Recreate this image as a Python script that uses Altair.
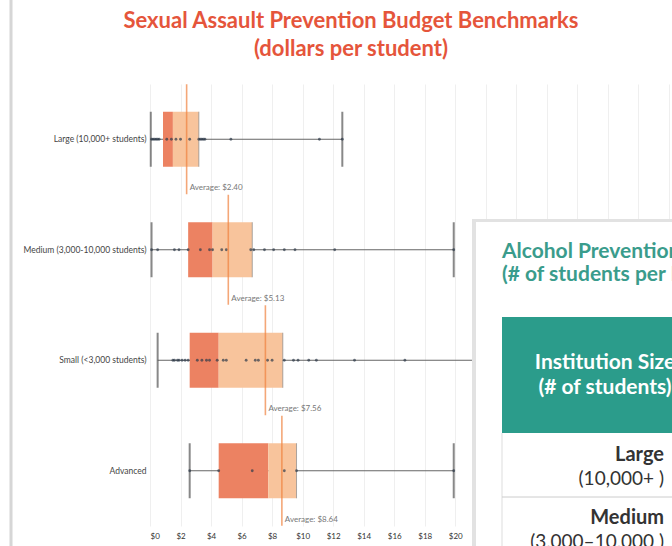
import altair as alt
import pandas as pd

# ---------------- data ----------------
groups = ["Large (10,000+ students)", "Medium (3,000-10,000 students)",
          "Small (<3,000 students)", "Advanced"]
mins = [0.05, 0.1, 0.5, 2.6]
q1s = [0.85, 2.5, 2.6, 4.5]
medians = [1.5, 4.1, 4.5, 7.75]
q3s = [3.2, 6.7, 8.7, 9.6]
maxs = [12.6, 19.9, 25.0, 19.9]
averages = [2.40, 5.13, 7.56, 8.64]

large_pts = [0.1, 0.2, 0.3, 0.4, 0.5, 0.6, 1.1, 1.4, 1.7, 2.0, 2.6, 3.2, 3.3, 3.4,
             3.5, 3.6, 5.3, 11.1, 12.6]
medium_pts = [0.1, 0.5, 1.6, 1.9, 2.5, 3.3, 3.9, 4.1, 4.7, 5.0, 6.6, 6.8, 7.5, 8.1,
              8.8, 9.5, 12.1, 19.9]
small_pts = [1.5, 1.6, 1.8, 1.9, 2.1, 2.3, 2.5, 3.1, 3.4, 3.7, 3.9, 4.4, 4.8, 5.0,
             6.3, 6.9, 7.1, 7.7, 8.0, 8.8, 9.4, 9.7, 10.4, 10.9, 13.4, 16.7]
advanced_pts = [2.6, 4.5, 6.7, 8.8, 9.6, 19.9]

x_ticks = list(range(0, 36, 2))

title_lines = ["Sexual Assault Prevention Budget Benchmarks", "(dollars per student)"]

overlay_title = ["Alcohol Prevention Staffing Benchmarks", "(# of students per FTE)"]
overlay_header = ["Institution Size", "(# of students)"]
overlay_row_names = ["Large", "Medium"]
overlay_row_ranges = ["(10,000+ )", "(3,000\u201310,000 )"]

# ---------------- tables ----------------
stats = pd.DataFrame({
    "group": groups, "min": mins, "q1": q1s, "med": medians, "q3": q3s,
    "max": maxs, "avg": averages,
    "label": ["Average: $%.2f" % a for a in averages],
})
pts = pd.DataFrame({
    "group": [groups[0]] * len(large_pts) + [groups[1]] * len(medium_pts)
             + [groups[2]] * len(small_pts) + [groups[3]] * len(advanced_pts),
    "value": large_pts + medium_pts + small_pts + advanced_pts,
})

FONT = "Lato"
xs = alt.Scale(domain=[0, 34.2], nice=False, zero=False)
x_axis = alt.Axis(values=x_ticks, grid=True, gridColor="#efefef", domain=False,
                  ticks=False, labelFontSize=8, labelColor="#333", labelPadding=6,
                  labelExpr="datum.value <= 20 ? '$' + datum.value : ''",
                  labelOverlap=False, labelFlush=True, labelFlushOffset=0,
                  title=None, zindex=0)
y_axis = alt.Axis(domain=False, ticks=False, grid=False, labelFontSize=8.5,
                  labelColor="#444", labelPadding=4, title=None, zindex=0)
ys = alt.Scale(domain=groups, paddingInner=0, paddingOuter=0)
Y = alt.Y("group:N", scale=ys, axis=y_axis, sort=groups, title=None)


def X(field):
    return alt.X(field, scale=xs, axis=x_axis, title=None)


base = alt.Chart(stats)

whisker = base.mark_rule(color="#666", strokeWidth=1).encode(
    x=X("min:Q"), x2="max:Q", y=Y)
cap_min = base.mark_tick(color="#555", thickness=2, size=55).encode(x=X("min:Q"), y=Y)
cap_max = base.mark_tick(color="#555", thickness=2, size=55).encode(x=X("max:Q"), y=Y)
box_dark = base.mark_bar(color="#EC8262", size=55).encode(x=X("q1:Q"), x2="med:Q", y=Y)
box_light = base.mark_bar(color="#F8C49C", size=55).encode(x=X("med:Q"), x2="q3:Q", y=Y)
q3_edge = base.mark_tick(color="#888", thickness=1, size=55, opacity=0.7).encode(
    x=X("q3:Q"), y=Y)
points = alt.Chart(pts).mark_circle(size=8, color="#2d3a4a", opacity=0.7).encode(
    x=X("value:Q"), y=Y)
avg_line = base.mark_tick(color="#F0823F", thickness=1.6, size=110).encode(
    x=X("avg:Q"), y=Y)
avg_text = base.mark_text(align="left", baseline="middle", dx=3, dy=49, fontSize=8,
                          color="#777", font=FONT).encode(
    x=X("avg:Q"), y=Y, text="label:N")

# ---------------- decorative elements (title, card with a table) ----------------
deco = alt.Chart(pd.DataFrame({"k": [0]}))
titles = [
    deco.mark_text(text=t, align="center", baseline="middle", font=FONT, fontSize=22,
                   fontWeight="bold", color="#E5553B").encode(
        x=alt.value(201), y=alt.value(-63 + 28 * i))
    for i, t in enumerate(title_lines)
]
left_shadow = deco.mark_rule(color="#d6d6d6", strokeWidth=3).encode(
    x=alt.value(-139), y=alt.value(-84), y2=alt.value(462))
card_shadow = deco.mark_rect(color="#e2e2e2").encode(
    x=alt.value(322), x2=alt.value(540), y=alt.value(135), y2=alt.value(480))
card = deco.mark_rect(color="#ffffff").encode(
    x=alt.value(326), x2=alt.value(540), y=alt.value(138), y2=alt.value(480))
header = deco.mark_rect(color="#2b9c8b").encode(
    x=alt.value(352), x2=alt.value(540), y=alt.value(233), y2=alt.value(349))
table_left = deco.mark_rule(color="#dddddd", strokeWidth=1).encode(
    x=alt.value(352), y=alt.value(349), y2=alt.value(480))
sep = deco.mark_rule(color="#cccccc", strokeWidth=1).encode(
    x=alt.value(352), x2=alt.value(540), y=alt.value(413))

texts = []
for i, t in enumerate(overlay_title):
    texts.append(deco.mark_text(text=t, align="left", baseline="middle", font=FONT,
                                fontSize=21, fontWeight="bold", color="#3a9c8c").encode(
        x=alt.value(352), y=alt.value(168 + 23 * i)))
for i, t in enumerate(overlay_header):
    texts.append(deco.mark_text(text=t, align="center", baseline="middle", font=FONT,
                                fontSize=21, fontWeight="bold", color="#ffffff").encode(
        x=alt.value(455), y=alt.value(279 + 25 * i)))
for i, (n, r) in enumerate(zip(overlay_row_names, overlay_row_ranges)):
    texts.append(deco.mark_text(text=n, align="right", baseline="middle", font=FONT,
                                fontSize=20, fontWeight="bold", color="#333").encode(
        x=alt.value(514), y=alt.value(371 + 63 * i)))
    texts.append(deco.mark_text(text=r, align="right", baseline="middle", font=FONT,
                                fontSize=19, color="#333").encode(
        x=alt.value(514), y=alt.value(395 + 63 * i)))

chart = alt.layer(
    whisker, cap_min, cap_max, box_dark, box_light, q3_edge, points, avg_line, avg_text,
    *titles, left_shadow, card_shadow, card, header, table_left, sep, *texts
).properties(
    width=522, height=442,
    autosize=alt.AutoSizeParams(type="none"),
    padding={"left": 150, "top": 84, "right": 0, "bottom": 20},
    background="#ffffff",
).configure_view(stroke=None).configure_axis(
    labelFont=FONT, labelOverlap=False
).configure_axisX(labelOverlap=False)

chart.save("out.html", embed_options={"renderer": "svg", "actions": False})
